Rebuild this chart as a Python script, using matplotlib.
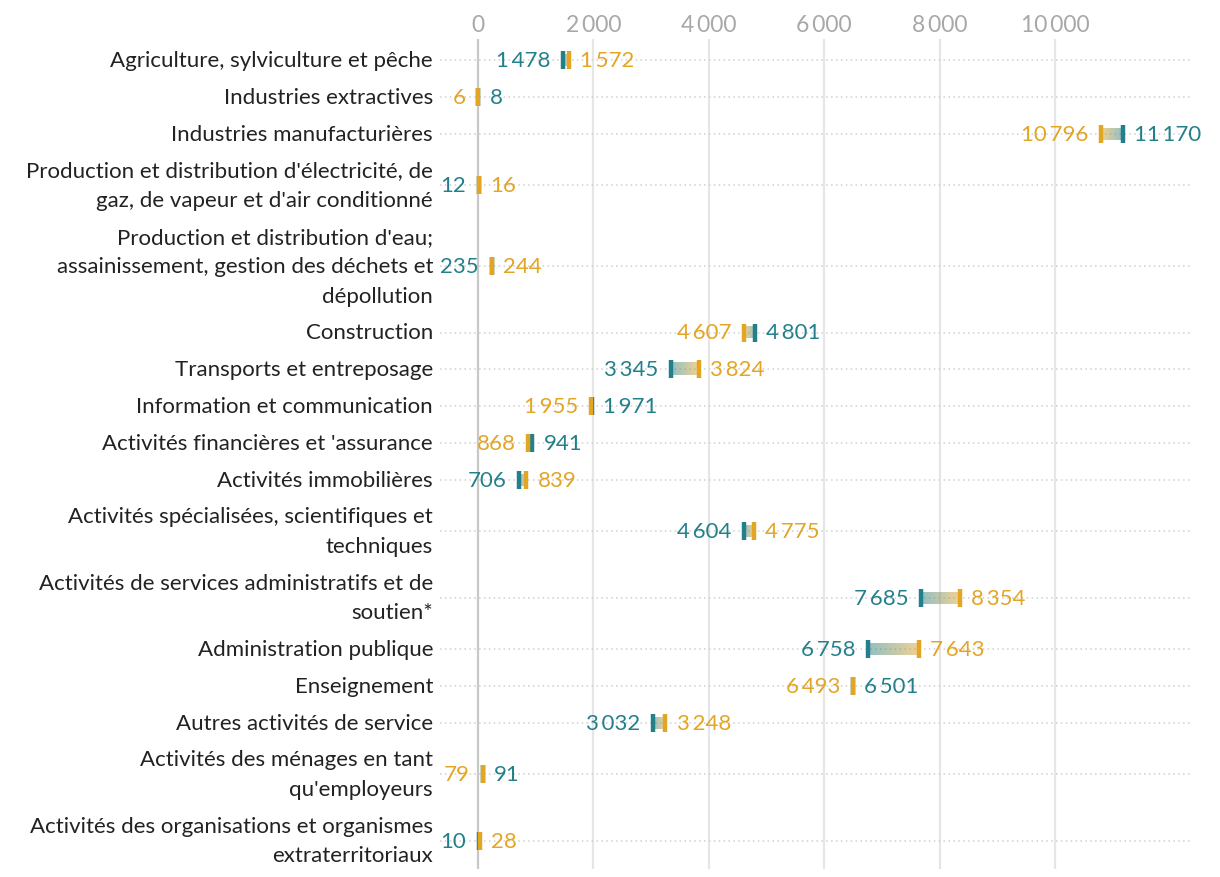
import numpy as np
import matplotlib
matplotlib.use("Agg")
import matplotlib.pyplot as plt
from matplotlib.colors import LinearSegmentedColormap

plt.rcParams["font.family"] = ["Lato", "DejaVu Sans"]

# --- data ---
sectors = [
    "Agriculture, sylviculture et pêche",
    "Industries extractives",
    "Industries manufacturières",
    "Production et distribution d'électricité, de\ngaz, de vapeur et d'air conditionné",
    "Production et distribution d'eau;\nassainissement, gestion des déchets et\ndépollution",
    "Construction",
    "Transports et entreposage",
    "Information et communication",
    "Activités financières et 'assurance",
    "Activités immobilières",
    "Activités spécialisées, scientifiques et\ntechniques",
    "Activités de services administratifs et de\nsoutien*",
    "Administration publique",
    "Enseignement",
    "Autres activités de service",
    "Activités des ménages en tant\nqu'employeurs",
    "Activités des organisations et organismes\nextraterritoriaux",
]
teal_vals = [1478, 8, 11170, 12, 235, 4801, 3345, 1971, 941, 706, 4604, 7685, 6758, 6501, 3032, 91, 10]
gold_vals = [1572, 6, 10796, 16, 244, 4607, 3824, 1955, 868, 839, 4775, 8354, 7643, 6493, 3248, 79, 28]
ticks = [0, 2000, 4000, 6000, 8000, 10000]

TEAL = "#23808b"
GOLD = "#e3a524"
TXT = "#222222"
FS = 16


def fmt(v):
    return f"{v:,}".replace(",", "\u2009") if v >= 1000 else str(v)


# row heights (pixel-ish units) from number of label lines
nlines = [s.count("\n") + 1 for s in sectors]
heights = [36.8 + 29.5 * (n - 1) for n in nlines]
ys = [61.0]
for i in range(1, len(sectors)):
    ys.append(ys[-1] + (heights[i - 1] + heights[i]) / 2)

fig = plt.figure(figsize=(12.2, 8.78), dpi=100)
ax = fig.add_axes([440 / 1220, 1 - 870 / 878, 752 / 1220, 830 / 878])

x0_px, scale = 478, 0.0577
xmin = (440 - x0_px) / scale
xmax = (1192 - x0_px) / scale

# grid
for t in ticks:
    ax.axvline(t, color="#c8c8c8" if t == 0 else "#e6e6e6", lw=1.6, zorder=0)
for y in ys:
    ax.plot([xmin, xmax], [y, y], ls=(0, (1, 2.2)), color="#cfcfcf", lw=1.1, zorder=0)

cmap = LinearSegmentedColormap.from_list("tg", [TEAL, GOLD])
grad = np.linspace(0, 1, 256).reshape(1, -1)

for y, t, g in zip(ys, teal_vals, gold_vals):
    lo, hi = min(t, g), max(t, g)
    img = grad if t <= g else grad[:, ::-1]
    if hi > lo:
        ax.imshow(img, cmap=cmap, extent=(lo, hi, y + 6, y - 6), aspect="auto",
                  alpha=0.5, zorder=1, interpolation="bilinear")
    ax.vlines(t, y - 9, y + 9, color=TEAL, lw=3.2, zorder=2, capstyle="butt")
    ax.vlines(g, y - 9, y + 9, color=GOLD, lw=3.2, zorder=3, capstyle="butt")
    lcol, rcol = (TEAL, GOLD) if t <= g else (GOLD, TEAL)
    ax.annotate(fmt(lo), (lo, y), xytext=(-9, 0), textcoords="offset points",
                ha="right", va="center", color=lcol, fontsize=FS)
    ax.annotate(fmt(hi), (hi, y), xytext=(8, 0), textcoords="offset points",
                ha="left", va="center", color=rcol, fontsize=FS)

ax.set_xlim(xmin, xmax)
ax.set_ylim(870, 40)
ax.set_yticks(ys)
ax.set_yticklabels(sectors, fontsize=FS, color=TXT, linespacing=1.6)
for lbl in ax.get_yticklabels():
    lbl.set_va("center")
ax.set_xticks(ticks)
ax.set_xticklabels([fmt(t) for t in ticks], fontsize=16.5, color="#a8a8a8")
ax.xaxis.tick_top()
ax.tick_params(axis="both", length=0)
ax.tick_params(axis="y", pad=5)
ax.tick_params(axis="x", pad=3)
for sp in ax.spines.values():
    sp.set_visible(False)

fig.savefig("out.png", dpi=100)
